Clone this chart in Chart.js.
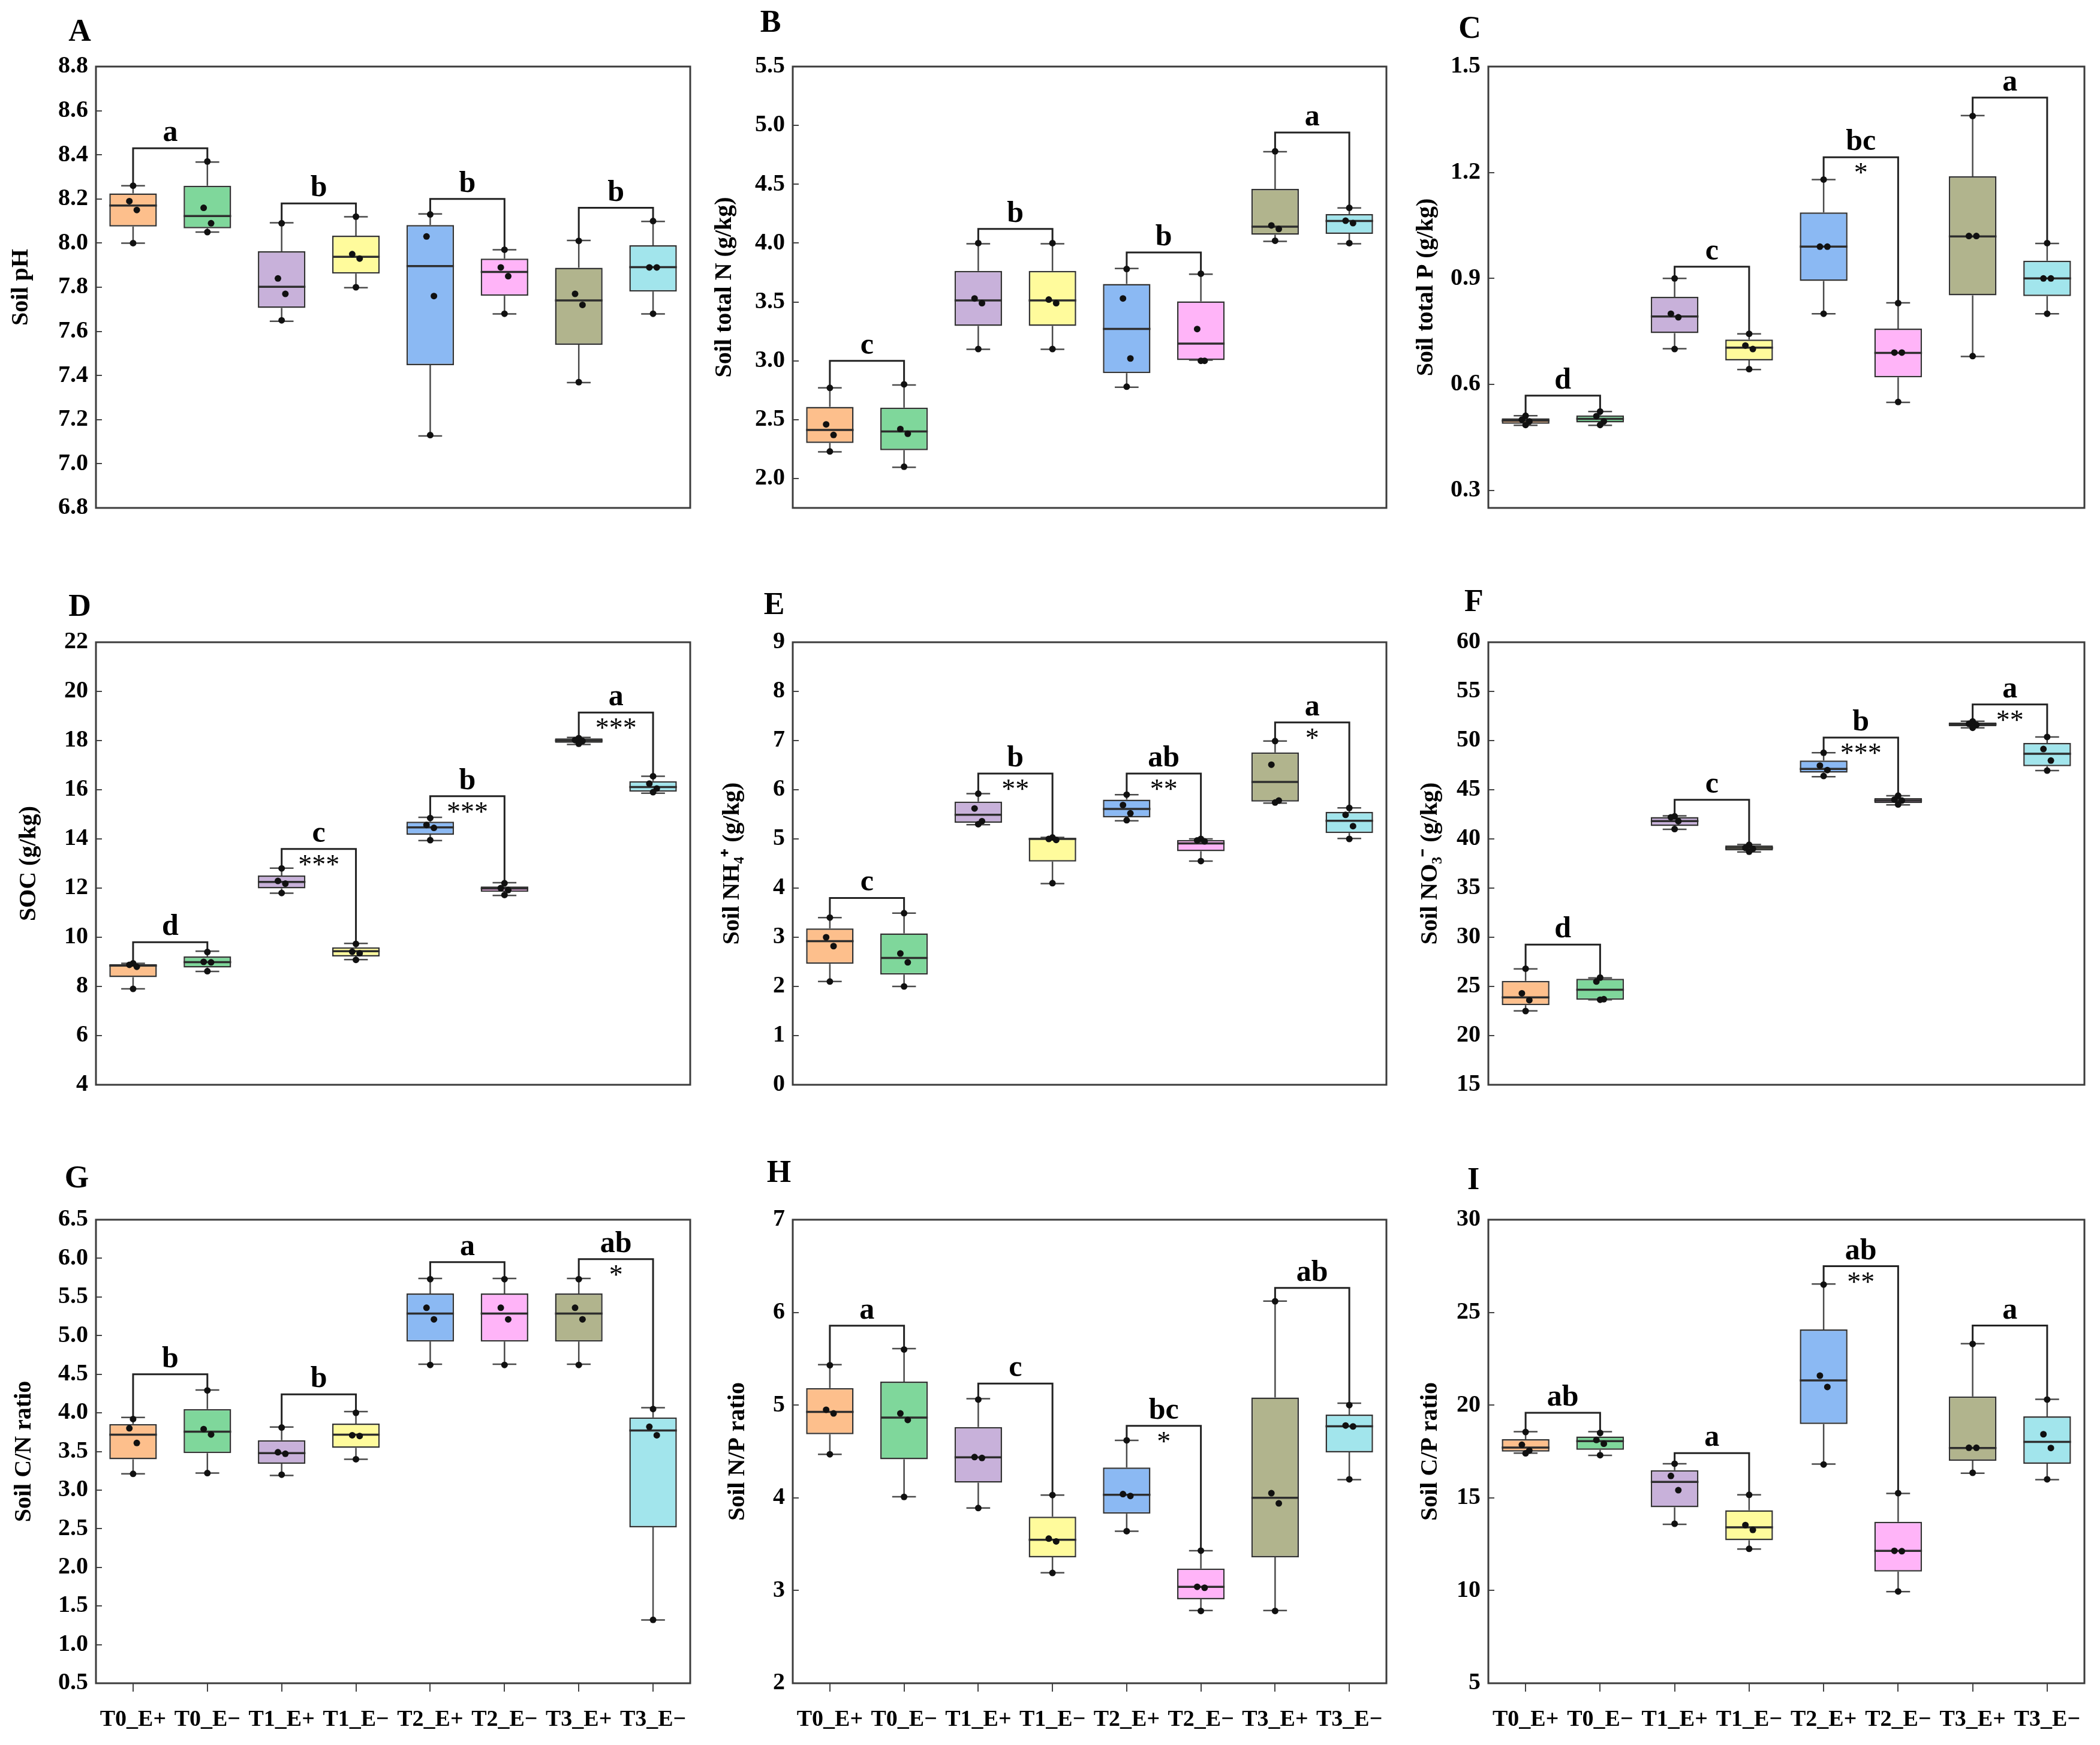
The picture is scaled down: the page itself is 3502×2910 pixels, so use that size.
<!DOCTYPE html>
<html lang="en">
<head>
<meta charset="UTF-8">
<title>Soil properties by treatment</title>
<script src="https://cdn.jsdelivr.net/npm/chart.js"></script>
<style>
  body { margin: 0; background: #fff; }
  #page { position: relative; width: 3502px; height: 2910px; overflow: hidden; }
  .panel { position: absolute; }
</style>
</head>
<body>
<div id="page"></div>
<script>
const categories = ['T0_E+', 'T0_E\u2212', 'T1_E+', 'T1_E\u2212', 'T2_E+', 'T2_E\u2212', 'T3_E+', 'T3_E\u2212'];

// each box: [min, q1, median, q3, max]
const phStats = [[8.00, 8.075, 8.17, 8.225, 8.26], [8.05, 8.067, 8.123, 8.26, 8.367], [7.646, 7.706, 7.802, 7.963, 8.092], [7.798, 7.862, 7.938, 8.034, 8.119],
  [7.126, 7.447, 7.896, 8.082, 8.132], [7.679, 7.761, 7.869, 7.93, 7.97], [7.368, 7.539, 7.74, 7.888, 8.012], [7.679, 7.78, 7.891, 7.99, 8.098]];
const phPoints = [[8.26, 8.19, 8.15, 8.00], [8.37, 8.16, 8.09, 8.05], [8.09, 7.84, 7.77, 7.65], [8.12, 7.95, 7.93, 7.80],
  [8.13, 8.03, 7.76, 7.13], [7.97, 7.89, 7.85, 7.68], [8.01, 7.77, 7.72, 7.37], [8.10, 7.89, 7.89, 7.68]];
const phTicks = [6.8, 7.0, 7.2, 7.4, 7.6, 7.8, 8.0, 8.2, 8.4, 8.6, 8.8];
const phBracket = [8.43, 8.18, 8.20, 8.16];
const phLetters = ['a', 'b', 'b', 'b'];
const phStars = ['', '', '', ''];

const tnStats = [[2.226, 2.301, 2.413, 2.608, 2.77], [2.095, 2.24, 2.399, 2.602, 2.795], [3.098, 3.296, 3.513, 3.764, 3.995], [3.098, 3.296, 3.513, 3.764, 3.995],
  [2.775, 2.895, 3.271, 3.653, 3.784], [3.006, 3.006, 3.146, 3.505, 3.736], [4.015, 4.071, 4.14, 4.461, 4.776], [3.995, 4.079, 4.188, 4.246, 4.299]];
const tnPoints = [[2.77, 2.46, 2.37, 2.23], [2.80, 2.42, 2.38, 2.10], [4.00, 3.53, 3.49, 3.10], [4.00, 3.52, 3.49, 3.10],
  [3.78, 3.53, 3.02, 2.78], [3.74, 3.27, 3.00, 3.00], [4.78, 4.15, 4.12, 4.02], [4.30, 4.19, 4.17, 4.00]];
const tnTicks = [2.0, 2.5, 3.0, 3.5, 4.0, 4.5, 5.0, 5.5];
const tnBracket = [3.00, 4.12, 3.92, 4.94];
const tnLetters = ['c', 'b', 'b', 'a'];
const tnStars = ['', '', '', ''];

const tpStats = [[0.484, 0.488, 0.497, 0.504, 0.511], [0.484, 0.492, 0.502, 0.512, 0.523], [0.701, 0.745, 0.792, 0.848, 0.90], [0.642, 0.668, 0.704, 0.727, 0.743],
  [0.80, 0.893, 0.99, 1.087, 1.18], [0.549, 0.62, 0.689, 0.758, 0.831], [0.679, 0.852, 1.019, 1.189, 1.361], [0.80, 0.85, 0.90, 0.95, 0.999]];
const tpPoints = [[0.511, 0.50, 0.495, 0.485], [0.523, 0.51, 0.495, 0.485], [0.90, 0.80, 0.79, 0.70], [0.743, 0.71, 0.70, 0.643],
  [1.18, 0.99, 0.99, 0.80], [0.83, 0.69, 0.69, 0.55], [1.36, 1.02, 1.02, 0.68], [1.00, 0.90, 0.90, 0.80]];
const tpTicks = [0.3, 0.6, 0.9, 1.2, 1.5];
const tpBracket = [0.568, 0.933, 1.243, 1.412];
const tpLetters = ['d', 'c', 'bc', 'a'];
const tpStars = ['', '', '*', ''];

const socStats = [[7.9, 8.38, 8.85, 8.91, 8.94], [8.61, 8.77, 8.99, 9.22, 9.43], [11.79, 11.99, 12.25, 12.51, 12.81], [9.09, 9.22, 9.43, 9.59, 9.75],
  [13.93, 14.17, 14.47, 14.70, 14.88], [11.70, 11.85, 11.98, 12.07, 12.22], [17.84, 17.91, 18.0, 18.09, 18.13], [15.86, 15.92, 16.11, 16.35, 16.55]];
const socPoints = [[8.94, 8.88, 8.80, 7.90], [9.40, 9.00, 8.98, 8.62], [12.80, 12.29, 12.18, 11.80], [9.73, 9.41, 9.35, 9.08],
  [14.85, 14.57, 14.45, 13.95], [12.20, 12.00, 11.92, 11.72], [18.10, 18.02, 17.98, 17.87], [16.55, 16.25, 16.05, 15.90]];
const socTicks = [4, 6, 8, 10, 12, 14, 16, 18, 20, 22];
const socBracket = [9.80, 13.59, 15.74, 19.14];
const socLetters = ['d', 'c', 'b', 'a'];
const socStars = ['', '***', '***', '***'];

const nhStats = [[2.10, 2.46, 2.92, 3.18, 3.40], [2.00, 2.24, 2.58, 3.08, 3.49], [5.29, 5.33, 5.49, 5.76, 5.92], [4.09, 4.54, 5.00, 5.02, 5.03],
  [5.37, 5.44, 5.61, 5.80, 5.90], [4.55, 4.75, 4.91, 4.98, 5.00], [5.73, 5.76, 6.16, 6.76, 6.99], [5.01, 5.12, 5.37, 5.55, 5.63]];
const nhPoints = [[3.40, 3.00, 2.82, 2.10], [3.49, 2.67, 2.49, 2.00], [5.92, 5.62, 5.36, 5.30], [5.03, 5.00, 4.98, 4.10],
  [5.90, 5.69, 5.52, 5.38], [5.00, 4.97, 4.95, 4.55], [6.99, 6.51, 5.78, 5.74], [5.63, 5.49, 5.26, 5.00]];
const nhTicks = [0, 1, 2, 3, 4, 5, 6, 7, 8, 9];
const nhBracket = [3.80, 6.33, 6.33, 7.37];
const nhLetters = ['c', 'b', 'ab', 'a'];
const nhStars = ['', '**', '**', '*'];

const noStats = [[22.52, 23.10, 23.89, 25.56, 26.79], [23.65, 23.65, 24.67, 25.77, 25.87], [40.97, 41.31, 41.82, 42.23, 42.34], [38.68, 38.82, 39.09, 39.33, 39.43],
  [46.33, 46.74, 47.12, 47.97, 48.76], [43.46, 43.64, 43.91, 44.15, 44.39], [51.29, 51.46, 51.66, 51.83, 51.97], [46.95, 47.39, 48.66, 49.75, 50.37]];
const noPoints = [[26.8, 24.3, 23.6, 22.5], [25.9, 25.5, 23.7, 23.65], [42.3, 42.2, 41.8, 41.0], [39.4, 39.1, 39.0, 38.7],
  [48.76, 47.46, 47.0, 46.4], [44.4, 44.0, 43.9, 43.5], [51.95, 51.7, 51.6, 51.3], [50.37, 49.14, 47.97, 46.95]];
const noTicks = [15, 20, 25, 30, 35, 40, 45, 50, 55, 60];
const noBracket = [29.25, 43.98, 50.30, 53.68];
const noLetters = ['d', 'c', 'b', 'a'];
const noStars = ['', '', '***', '**'];

const cnStats = [[3.21, 3.40, 3.718, 3.855, 3.94], [3.22, 3.478, 3.757, 4.05, 4.296], [3.19, 3.34, 3.478, 3.645, 3.816], [3.40, 3.547, 3.718, 3.86, 4.017],
  [4.63, 4.923, 5.285, 5.545, 5.74], [4.63, 4.923, 5.285, 5.545, 5.74], [4.63, 4.923, 5.285, 5.545, 5.74], [1.318, 2.518, 3.772, 3.94, 4.066]];
const cnPoints = [[3.92, 3.80, 3.61, 3.21], [4.29, 3.79, 3.72, 3.22], [3.81, 3.49, 3.47, 3.20], [4.00, 3.71, 3.70, 3.40],
  [5.73, 5.36, 5.21, 4.62], [5.73, 5.36, 5.21, 4.62], [5.73, 5.36, 5.21, 4.62], [4.05, 3.82, 3.71, 1.32]];
const cnTicks = [0.5, 1.0, 1.5, 2.0, 2.5, 3.0, 3.5, 4.0, 4.5, 5.0, 5.5, 6.0, 6.5];
const cnBracket = [4.50, 4.24, 5.95, 5.99];
const cnLetters = ['b', 'b', 'a', 'ab'];
const cnStars = ['', '', '', '*'];

const npStats = [[4.469, 4.686, 4.927, 5.184, 5.437], [4.012, 4.416, 4.865, 5.253, 5.61], [3.89, 4.163, 4.437, 4.763, 5.069], [3.192, 3.359, 3.547, 3.796, 4.029],
  [3.64, 3.829, 4.033, 4.327, 4.62], [2.784, 2.906, 3.04, 3.237, 3.43], [2.784, 3.359, 4.0, 5.082, 6.122], [4.196, 4.49, 4.771, 4.898, 5.02]];
const npPoints = [[5.43, 4.95, 4.91, 4.47], [5.60, 4.91, 4.84, 4.01], [5.06, 4.44, 4.43, 3.89], [4.03, 3.56, 3.53, 3.19],
  [4.62, 4.04, 4.02, 3.64], [3.43, 3.04, 3.03, 2.78], [6.12, 4.05, 3.94, 2.78], [5.00, 4.78, 4.77, 4.20]];
const npTicks = [2, 3, 4, 5, 6, 7];
const npBracket = [5.857, 5.233, 4.776, 6.265];
const npLetters = ['a', 'c', 'bc', 'ab'];
const npStars = ['', '', '*', ''];

const cpStats = [[17.41, 17.49, 17.71, 18.16, 18.57], [17.29, 17.59, 18.06, 18.31, 18.57], [13.57, 14.49, 15.86, 16.49, 16.84], [12.24, 12.71, 13.41, 14.33, 15.16],
  [16.82, 18.98, 21.33, 24.08, 26.53], [9.94, 11.02, 12.14, 13.71, 15.24], [16.33, 17.0, 17.69, 20.47, 23.31], [15.98, 16.84, 18.02, 19.39, 20.31]];
const cpPoints = [[18.55, 17.86, 17.55, 17.40], [18.50, 18.12, 17.92, 17.30], [16.84, 16.18, 15.41, 13.60], [15.16, 13.53, 13.27, 12.25],
  [26.50, 21.59, 20.98, 16.80], [15.25, 12.14, 12.12, 9.95], [23.30, 17.70, 17.70, 16.35], [20.30, 18.43, 17.69, 16.00]];
const cpTicks = [5, 10, 15, 20, 25, 30];
const cpBracket = [19.59, 17.41, 27.49, 24.29];
const cpLetters = ['ab', 'a', 'ab', 'a'];
const cpStars = ['', '', '**', ''];

const boxColors = ['#fdbf8c', '#7fd79b', '#c8b1da', '#fffb9c', '#8bb9f3', '#ffb4f8', '#b1b48d', '#a2e5ec'];
const jitter = [0, -0.05, 0.05, 0];

const fontFamily = '"Liberation Serif", "Times New Roman", serif';
const yW = 150, padTop = 110, padRight = 20;

// frame = [left, top, right, bottom] of the plot box on the page
const panels = [
  { id: 'A', title: 'Soil pH', stats: phStats, points: phPoints, ticks: phTicks, dec: 1, min: 6.8, max: 8.8, bracket: phBracket, letters: phLetters, stars: phStars, frame: [160, 111, 1151, 884], letterAt: [-27, -56], titleGap: 124, xLabels: false },
  { id: 'B', title: 'Soil total N (g/kg)', stats: tnStats, points: tnPoints, ticks: tnTicks, dec: 1, min: 1.75, max: 5.5, bracket: tnBracket, letters: tnLetters, stars: tnStars, frame: [1322, 111, 2312, 884], letterAt: [-37, -71], titleGap: 113, xLabels: false },
  { id: 'C', title: 'Soil total P (g/kg)', stats: tpStats, points: tpPoints, ticks: tpTicks, dec: 1, min: 0.25, max: 1.5, bracket: tpBracket, letters: tpLetters, stars: tpStars, frame: [2482, 111, 3476, 884], letterAt: [-31, -61], titleGap: 103, xLabels: false },
  { id: 'D', title: 'SOC (g/kg)', stats: socStats, points: socPoints, ticks: socTicks, dec: 0, min: 4, max: 22, bracket: socBracket, letters: socLetters, stars: socStars, frame: [160, 1071, 1151, 1846], letterAt: [-27, -57], titleGap: 111, xLabels: false },
  { id: 'E', title: 'Soil NH\u2084\u207A (g/kg)', stats: nhStats, points: nhPoints, ticks: nhTicks, dec: 0, min: 0, max: 9, bracket: nhBracket, letters: nhLetters, stars: nhStars, frame: [1322, 1071, 2312, 1846], letterAt: [-31, -60], titleGap: 100, xLabels: false },
  { id: 'F', title: 'Soil NO\u2083\u207B (g/kg)', stats: noStats, points: noPoints, ticks: noTicks, dec: 0, min: 15, max: 60, bracket: noBracket, letters: noLetters, stars: noStars, frame: [2482, 1071, 3476, 1846], letterAt: [-24, -65], titleGap: 96, xLabels: false },
  { id: 'G', title: 'Soil C/N ratio', stats: cnStats, points: cnPoints, ticks: cnTicks, dec: 1, min: 0.5, max: 6.5, bracket: cnBracket, letters: cnLetters, stars: cnStars, frame: [160, 2034, 1151, 2807], letterAt: [-32, -67], titleGap: 119, xLabels: true },
  { id: 'H', title: 'Soil N/P ratio', stats: npStats, points: npPoints, ticks: npTicks, dec: 0, min: 2, max: 7, bracket: npBracket, letters: npLetters, stars: npStars, frame: [1322, 2034, 2312, 2807], letterAt: [-23, -76], titleGap: 91, xLabels: true },
  { id: 'I', title: 'Soil C/P ratio', stats: cpStats, points: cpPoints, ticks: cpTicks, dec: 0, min: 5, max: 30, bracket: cpBracket, letters: cpLetters, stars: cpStars, frame: [2482, 2034, 3476, 2807], letterAt: [-25, -64], titleGap: 96, xLabels: true }
];

Chart.defaults.font.family = fontFamily;
Chart.defaults.color = '#000';

function makeAnnotate(p) {
  return {
    id: 'annotate' + p.id,
    afterDatasetsDraw(chart) {
      const { ctx, chartArea: a, scales: { x, y } } = chart;
      ctx.save();
      ctx.strokeStyle = '#3c3c3c';
      ctx.lineWidth = 3;
      ctx.strokeRect(a.left, a.top, a.right - a.left, a.bottom - a.top);
      ctx.fillStyle = '#000';
      ctx.textAlign = 'center';
      p.letters.forEach((txt, k) => {
        const px = x.getPixelForValue(2 * k + 1.5);
        const py = y.getPixelForValue(p.bracket[k]);
        ctx.font = 'bold 50px ' + fontFamily;
        ctx.textBaseline = 'alphabetic';
        ctx.fillText(txt, px, py - 12);
        if (p.stars[k]) {
          ctx.font = '46px ' + fontFamily;
          ctx.textBaseline = 'top';
          ctx.fillText(p.stars[k], px, py + 6);
        }
      });
      ctx.font = 'bold 52px ' + fontFamily;
      ctx.textBaseline = 'middle';
      ctx.fillText(p.id, a.left + p.letterAt[0], a.top + p.letterAt[1]);
      ctx.restore();
    }
  };
}

function buildPanel(p) {
  const [l, t, r, b] = p.frame;
  const xH = p.xLabels ? 100 : 0;
  const padBottom = p.xLabels ? 5 : 10;
  const div = document.createElement('div');
  div.className = 'panel';
  div.style.left = (l - yW) + 'px';
  div.style.top = (t - padTop) + 'px';
  div.style.width = (r - l + yW + padRight) + 'px';
  div.style.height = (b - t + padTop + xH + padBottom) + 'px';
  const canvas = document.createElement('canvas');
  div.appendChild(canvas);
  document.getElementById('page').appendChild(div);

  const boxes = p.stats.map((s, i) => ({ x: i + 1, y: [s[1], s[3]] }));
  const whiskers = [];
  const medians = [];
  p.stats.forEach((s, i) => {
    const c = i + 1;
    whiskers.push({ x: c, y: s[3] }, { x: c, y: s[4] }, { x: c, y: null });
    whiskers.push({ x: c, y: s[1] }, { x: c, y: s[0] }, { x: c, y: null });
    whiskers.push({ x: c - 0.16, y: s[4] }, { x: c + 0.16, y: s[4] }, { x: c, y: null });
    whiskers.push({ x: c - 0.16, y: s[0] }, { x: c + 0.16, y: s[0] }, { x: c, y: null });
    medians.push({ x: c - 0.32, y: s[2] }, { x: c + 0.32, y: s[2] }, { x: c, y: null });
  });
  const brackets = [];
  p.bracket.forEach((top, k) => {
    const c1 = 2 * k + 1, c2 = 2 * k + 2;
    brackets.push({ x: c1, y: p.stats[c1 - 1][4] }, { x: c1, y: top }, { x: c2, y: top }, { x: c2, y: p.stats[c2 - 1][4] }, { x: c2, y: null });
  });
  const dots = [];
  p.points.forEach((vals, i) => vals.forEach((v, j) => dots.push({ x: i + 1 + jitter[j], y: v })));

  new Chart(canvas, {
    type: 'bar',
    data: {
      datasets: [
        { type: 'scatter', data: dots, pointRadius: 5.5, pointBackgroundColor: '#111', pointBorderWidth: 0, order: 0 },
        { type: 'line', data: medians, borderColor: '#2e2e2e', borderWidth: 3.5, pointRadius: 0, spanGaps: false, fill: false, order: 1 },
        { type: 'line', data: whiskers, borderColor: '#4a4a4a', borderWidth: 2.5, pointRadius: 0, spanGaps: false, fill: false, order: 2 },
        { type: 'line', data: brackets, borderColor: '#222', borderWidth: 3, pointRadius: 0, spanGaps: false, fill: false, order: 3 },
        { type: 'bar', data: boxes, backgroundColor: boxColors, borderColor: '#333', borderWidth: 2.5, borderSkipped: false,
          barPercentage: 0.64, categoryPercentage: 1, grouped: false, order: 4 }
      ]
    },
    options: {
      responsive: true,
      maintainAspectRatio: false,
      animation: false,
      devicePixelRatio: 1,
      layout: { padding: { top: padTop, right: padRight, bottom: padBottom, left: 0 } },
      plugins: { legend: { display: false }, tooltip: { enabled: false } },
      scales: {
        x: {
          type: 'linear', min: 0.5, max: 8.5, offset: false,
          afterBuildTicks: s => { s.ticks = categories.map((c, i) => ({ value: i + 1 })); },
          afterFit: s => { s.height = xH; },
          ticks: { display: p.xLabels, callback: v => categories[v - 1], font: { size: 38, weight: 'bold' }, color: '#000',
            autoSkip: false, maxRotation: 0, padding: 24 },
          grid: { display: p.xLabels, drawOnChartArea: false, drawTicks: true, tickLength: 14, color: '#444', lineWidth: 2, offset: false },
          border: { display: false }
        },
        y: {
          type: 'linear', min: p.min, max: p.max,
          afterBuildTicks: s => { s.ticks = p.ticks.map(v => ({ value: v })); },
          afterFit: s => { s.width = yW; },
          ticks: { callback: v => Number(v).toFixed(p.dec), font: { size: 40, weight: 'bold' }, color: '#000', padding: 23 },
          grid: { display: true, drawOnChartArea: false, drawTicks: true, tickLength: -10, color: '#444', lineWidth: 2 },
          border: { display: false },
          title: { display: true, text: p.title, font: { size: 40, weight: 'bold' }, color: '#000',
            padding: { top: yW - 24 - p.titleGap, bottom: 0 } }
        }
      }
    },
    plugins: [makeAnnotate(p)]
  });
}

panels.forEach(buildPanel);
</script>
</body>
</html>
